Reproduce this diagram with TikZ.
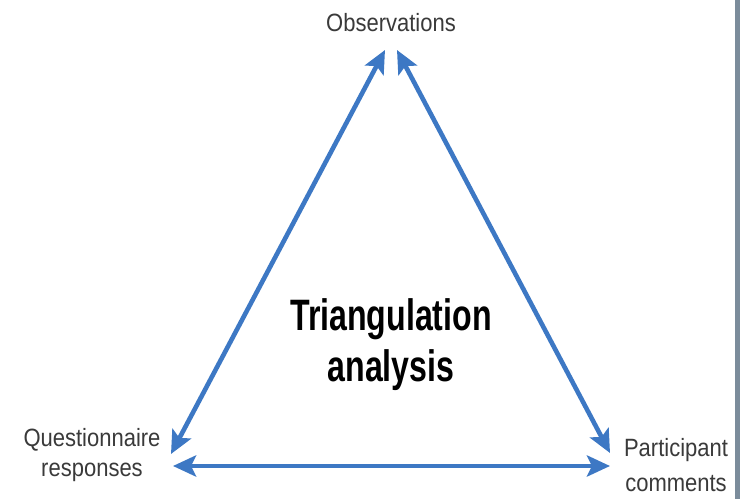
\documentclass[tikz,border=0pt]{standalone}
\usepackage{fontspec}
\setmainfont{Liberation Sans}
\newfontfamily\condsmall[FakeStretch=0.88]{Liberation Sans}
\newfontfamily\condbold[FakeStretch=0.73]{Liberation Sans Bold}
\usetikzlibrary{arrows.meta}
\definecolor{arrowblue}{HTML}{3D78C4}
\definecolor{bandgray}{HTML}{7B8C9B}
\definecolor{labelgray}{HTML}{3A3A3A}
\begin{document}
\begin{tikzpicture}[x=1pt,y=1pt,
  lbl/.style={font=\condsmall\fontsize{25}{30}\selectfont, text=labelgray, align=center, inner sep=0pt},
  conn/.style={draw=arrowblue, line width=4.6pt, {Stealth[length=23pt,width=21pt,inset=5pt]}-{Stealth[length=23pt,width=21pt,inset=5pt]}},
]
\useasboundingbox (0,0) rectangle (740,499);
\fill[white] (0,0) rectangle (740,499);
\fill[bandgray] (735,0) rectangle (740,499);

\node[lbl] (obs) at (391,476) {Observations};
\node[lbl] (qr) at (92,44) {Questionnaire\\responses};
\node[lbl, font=\condsmall\fontsize{25}{35}\selectfont] (pc) at (676,34) {Participant\\comments};
\node[font=\condbold\fontsize{44}{51}\selectfont, align=center, inner sep=0pt] (ta) at (391,154) {Triangulation\\analysis};

\coordinate (t1) at (385,449);
\coordinate (t2) at (397,449);
\coordinate (l1) at (171,45);
\coordinate (r1) at (610,46);
\coordinate (l2) at (173,33);
\coordinate (r2) at (610,33);

\draw[conn] (l1) -- (t1);
\draw[conn] (t2) -- (r1);
\draw[conn] (l2) -- (r2);
\end{tikzpicture}
\end{document}
